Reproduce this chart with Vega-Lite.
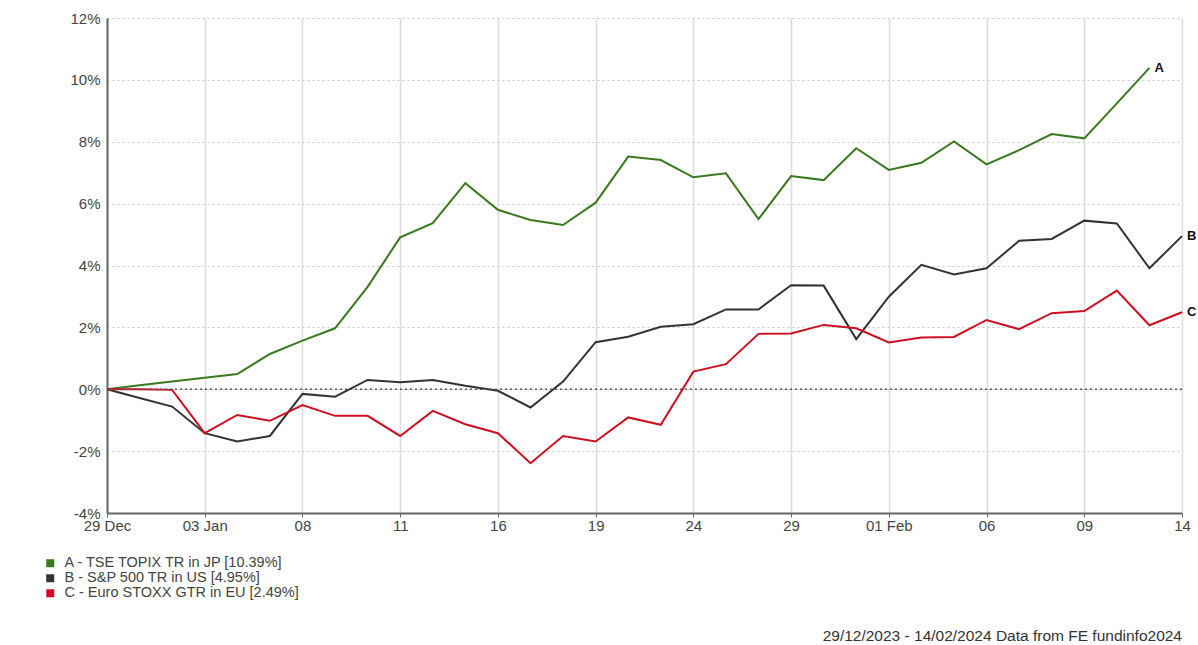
{
  "$schema": "https://vega.github.io/schema/vega-lite/v6.json",
  "width": 1075,
  "height": 495,
  "autosize": {"type": "none"},
  "padding": {"left": 107, "top": 18, "right": 16, "bottom": 132},
  "background": "white",
  "config": {"font": "Liberation Sans", "view": {"stroke": null}},
  "title": {
    "text": "29/12/2023 - 14/02/2024 Data from FE fundinfo2024",
    "orient": "bottom",
    "anchor": "end",
    "frame": "group",
    "fontSize": 15.5,
    "fontWeight": "normal",
    "color": "#333333",
    "offset": 29
  },
  "data": {
    "values": [
      {"date": "2023-12-29", "A": 0, "B": 0, "C": 0},
      {"date": "2024-01-01", "A": 0.13, "B": -0.28, "C": 0},
      {"date": "2024-01-02", "A": 0.25, "B": -0.56, "C": -0.02},
      {"date": "2024-01-03", "A": 0.37, "B": -1.42, "C": -1.42},
      {"date": "2024-01-04", "A": 0.49, "B": -1.69, "C": -0.83},
      {"date": "2024-01-05", "A": 1.14, "B": -1.51, "C": -1.02},
      {"date": "2024-01-08", "A": 1.57, "B": -0.15, "C": -0.51},
      {"date": "2024-01-09", "A": 1.97, "B": -0.24, "C": -0.86},
      {"date": "2024-01-10", "A": 3.31, "B": 0.30, "C": -0.86},
      {"date": "2024-01-11", "A": 4.91, "B": 0.23, "C": -1.51},
      {"date": "2024-01-12", "A": 5.37, "B": 0.30, "C": -0.70},
      {"date": "2024-01-15", "A": 6.66, "B": 0.11, "C": -1.13},
      {"date": "2024-01-16", "A": 5.80, "B": -0.05, "C": -1.42},
      {"date": "2024-01-17", "A": 5.47, "B": -0.59, "C": -2.39},
      {"date": "2024-01-18", "A": 5.31, "B": 0.25, "C": -1.51},
      {"date": "2024-01-19", "A": 6.03, "B": 1.52, "C": -1.69},
      {"date": "2024-01-22", "A": 7.52, "B": 1.70, "C": -0.91},
      {"date": "2024-01-23", "A": 7.41, "B": 2.02, "C": -1.15},
      {"date": "2024-01-24", "A": 6.85, "B": 2.10, "C": 0.57},
      {"date": "2024-01-25", "A": 6.98, "B": 2.58, "C": 0.81},
      {"date": "2024-01-26", "A": 5.50, "B": 2.58, "C": 1.79},
      {"date": "2024-01-29", "A": 6.89, "B": 3.36, "C": 1.80},
      {"date": "2024-01-30", "A": 6.76, "B": 3.35, "C": 2.08},
      {"date": "2024-01-31", "A": 7.79, "B": 1.62, "C": 1.97},
      {"date": "2024-02-01", "A": 7.09, "B": 2.99, "C": 1.51},
      {"date": "2024-02-02", "A": 7.32, "B": 4.02, "C": 1.67},
      {"date": "2024-02-05", "A": 8.01, "B": 3.71, "C": 1.69},
      {"date": "2024-02-06", "A": 7.27, "B": 3.91, "C": 2.24},
      {"date": "2024-02-07", "A": 7.73, "B": 4.80, "C": 1.94},
      {"date": "2024-02-08", "A": 8.25, "B": 4.86, "C": 2.46},
      {"date": "2024-02-09", "A": 8.11, "B": 5.45, "C": 2.53},
      {"date": "2024-02-12", "A": 9.24, "B": 5.36, "C": 3.19},
      {"date": "2024-02-13", "A": 10.39, "B": 3.91, "C": 2.07},
      {"date": "2024-02-14", "A": null, "B": 4.95, "C": 2.49}
    ]
  },
  "transform": [
    {"fold": ["A", "B", "C"], "as": ["series", "value"]},
    {"filter": "isValid(datum.value)"}
  ],
  "layer": [
    {
      "mark": {"type": "line", "strokeWidth": 2},
      "encoding": {
        "x": {
          "field": "date",
          "type": "ordinal",
          "scale": {"type": "point", "padding": 0},
          "axis": {
            "title": null,
            "values": ["2023-12-29", "2024-01-03", "2024-01-08", "2024-01-11", "2024-01-16", "2024-01-19", "2024-01-24", "2024-01-29", "2024-02-01", "2024-02-06", "2024-02-09", "2024-02-14"],
            "labelExpr": "datum.value == '2023-12-29' ? '29 Dec' : datum.value == '2024-01-03' ? '03 Jan' : datum.value == '2024-02-01' ? '01 Feb' : slice(datum.value, 8)",
            "labelAngle": 0,
            "labelFontSize": 15,
            "labelColor": "#444444",
            "labelPadding": 1,
            "grid": true,
            "gridColor": "#dcdcdc",
            "gridWidth": 1.5,
            "domainColor": "#666666",
            "domainWidth": 2,
            "tickColor": "#666666",
            "tickSize": 4
          }
        },
        "y": {
          "field": "value",
          "type": "quantitative",
          "scale": {"domain": [-4, 12], "nice": false, "zero": false},
          "axis": {
            "title": null,
            "values": [-4, -2, 0, 2, 4, 6, 8, 10, 12],
            "labelExpr": "datum.value + '%'",
            "labelFontSize": 15,
            "labelColor": "#444444",
            "labelPadding": 7,
            "ticks": false,
            "grid": true,
            "gridColor": "#c8c8c8",
            "gridDash": [2, 3],
            "gridWidth": 1,
            "domainColor": "#666666",
            "domainWidth": 2
          }
        },
        "color": {
          "field": "series",
          "type": "nominal",
          "scale": {"domain": ["A", "B", "C"], "range": ["#3a7a1e", "#333333", "#cc1020"]},
          "legend": {
            "orient": "none",
            "legendX": -64,
            "legendY": 538,
            "title": null,
            "padding": 0,
            "symbolType": "square",
            "symbolSize": 64,
            "symbolStrokeWidth": 0,
            "labelFontSize": 14.5,
            "labelColor": "#444444",
            "labelOffset": 7,
            "labelLimit": 0,
            "rowPadding": 0,
            "labelExpr": "datum.label == 'A' ? 'A - TSE TOPIX TR in JP [10.39%]' : datum.label == 'B' ? 'B - S&P 500 TR in US [4.95%]' : 'C - Euro STOXX GTR in EU [2.49%]'",
            "encode": {"symbols": {"update": {"fill": {"scale": "color", "field": "value"}, "opacity": {"value": 1}}}}
          }
        }
      }
    },
    {
      "data": {"values": [{"zero": 0}]},
      "mark": {"type": "rule", "color": "#555555", "strokeDash": [2, 3], "strokeWidth": 1.5},
      "encoding": {"y": {"field": "zero", "type": "quantitative"}}
    },
    {
      "transform": [
        {"filter": "(datum.series == 'A' && datum.date == '2024-02-13') || (datum.series != 'A' && datum.date == '2024-02-14')"}
      ],
      "mark": {"type": "text", "align": "left", "baseline": "middle", "dx": 5, "fontWeight": "bold", "fontSize": 13, "color": "#111111"},
      "encoding": {
        "x": {"field": "date", "type": "ordinal"},
        "y": {"field": "value", "type": "quantitative"},
        "text": {"field": "series"}
      }
    }
  ]
}
